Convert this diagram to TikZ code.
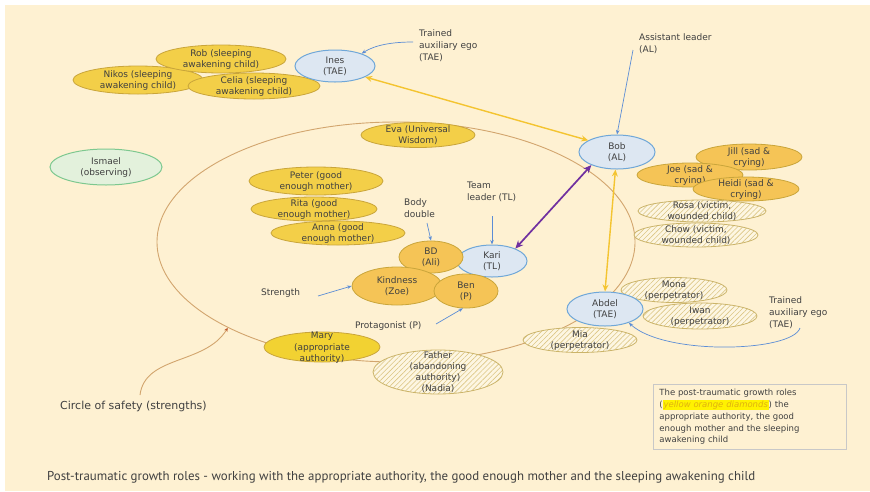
\documentclass[tikz,border=0pt]{standalone}
\usepackage{fontspec}
\setmainfont{DejaVu Sans}
\newfontfamily\capfont{PT Sans}
\usetikzlibrary{shapes.geometric,patterns.meta,arrows.meta}
\definecolor{bg}{HTML}{FEF1D2}
\definecolor{txt}{HTML}{404040}
\definecolor{yelfill}{HTML}{F3CF48}
\definecolor{maryfill}{HTML}{F2D232}
\definecolor{orgfill}{HTML}{F5C456}
\definecolor{yelline}{HTML}{C9A53A}
\definecolor{bluefill}{HTML}{DDE7F2}
\definecolor{blueline}{HTML}{6FA7D8}
\definecolor{greenfill}{HTML}{E3F1DC}
\definecolor{greenline}{HTML}{7DC88F}
\definecolor{hatchc}{HTML}{DCC684}
\definecolor{hatchline}{HTML}{CBB46A}
\definecolor{hatchbg}{HTML}{FDF6E2}
\definecolor{arrblue}{HTML}{5B8DD6}
\definecolor{arryel}{HTML}{F4C430}
\definecolor{arrpur}{HTML}{7030A0}
\definecolor{safecol}{HTML}{D2A56E}
\definecolor{safetip}{HTML}{C0582A}
\definecolor{hly}{HTML}{FFF200}
\definecolor{hltxt}{HTML}{E0B010}
\definecolor{boxline}{HTML}{C8C8C8}
\newcommand\et[1]{\smash{\raisebox{-3pt}{\makebox[0pt]{\begin{tabular}{@{}c@{}}#1\end{tabular}}}}}
\newcommand\tl[1]{\begin{tabular}[t]{@{}l@{}}#1\end{tabular}}
\tikzset{
  ell/.style={ellipse, inner sep=0pt, draw, line width=0.8pt, text=txt, font=\fontsize{9}{11.3}\selectfont},
  sz/.style 2 args={minimum width=#1pt, minimum height=#2pt},
  yel/.style={ell, fill=yelfill, draw=yelline},
  org/.style={ell, fill=orgfill, draw=yelline},
  blu/.style={ell, fill=bluefill, draw=blueline, line width=1pt},
  grn/.style={ell, fill=greenfill, draw=greenline, line width=1pt},
  hat/.style={ell, draw=hatchline, preaction={fill=hatchbg}, pattern={Lines[angle=45,distance=3.6pt,line width=0.6pt]}, pattern color=hatchc},
  lbl/.style={anchor=base west, inner sep=0pt, text=txt, font=\fontsize{9}{12.2}\selectfont},
  blarr/.style={draw=arrblue, line width=0.7pt, -{Stealth[length=4.5pt,width=3.5pt]}},
  yarr/.style={draw=arryel, line width=1.4pt, {Stealth[length=7pt,width=6pt]}-{Stealth[length=7pt,width=6pt]}},
  parr/.style={draw=arrpur, line width=1.7pt, {Stealth[length=8pt,width=7pt]}-{Stealth[length=8pt,width=7pt]}},
}
\begin{document}
\begin{tikzpicture}[x=1pt,y=-1pt]
\useasboundingbox (0,0) rectangle (870,491);
\fill[white] (0,0) rectangle (870,491);
\fill[bg] (5,5) rectangle (870,491);

% circle of safety
\node[ellipse, draw=safecol, line width=0.9pt, minimum width=478pt, minimum height=240pt, inner sep=0pt] (safe) at (396,242) {};

% top-left group
\node[yel,sz={130}{28}] (nikos) at (138,80) {\et{Nikos (sleeping\\awakening child)}};
\node[yel,sz={130}{28}] (rob) at (221,59) {\et{Rob (sleeping\\awakening child)}};
\node[yel,sz={132}{26}] (celia) at (254,86) {\et{Celia (sleeping\\awakening child)}};
\node[blu,sz={80}{32}] (ines) at (335,66) {\et{Ines\\(TAE)}};
\node[grn,sz={112}{36}] (ismael) at (106,167) {\et{Ismael\\(observing)}};
\node[yel,sz={114}{25}] (eva) at (418,135) {\et{Eva (Universal\\Wisdom)}};

% good enough mothers
\node[yel,sz={134}{28}] (peter) at (316,181) {\et{Peter (good\\enough mother)}};
\node[yel,sz={126}{24}] (rita) at (314,209) {\et{Rita (good\\enough mother)}};
\node[yel,sz={134}{24}] (anna) at (338,233) {\et{Anna (good\\enough mother)}};

% centre group
\node[blu,sz={70}{32}] (kari) at (492,261) {\et{Kari\\(TL)}};
\node[org,sz={64}{32}] (bd) at (431,257) {\et{BD\\(Ali)}};
\node[org,sz={90}{38}] (kindness) at (397,286) {\et{Kindness\\(Zoe)}};
\node[org,sz={64}{34}] (ben) at (466,291) {\et{Ben\\(P)}};

% right group
\node[blu,sz={76}{34}] (bob) at (617,152) {\et{Bob\\(AL)}};
\node[org,sz={106}{26}] (jill) at (749,157) {\et{Jill (sad \&\\crying)}};
\node[org,sz={106}{24}] (joe) at (690,175) {\et{Joe (sad \&\\crying)}};
\node[org,sz={106}{24}] (heidi) at (746,189) {\et{Heidi (sad \&\\crying)}};
\node[hat,sz={128}{22}] (rosa) at (702,211) {\et{Rosa (victim,\\wounded child)}};
\node[hat,sz={124}{24}] (chow) at (696,235) {\et{Chow (victim,\\wounded child)}};

% bottom group
\node[yel,fill=maryfill,sz={116}{30}] (mary) at (322,347) {\et{Mary\\(appropriate\\authority)}};
\node[hat,sz={130}{44}] (father) at (438,372) {\et{Father\\(abandoning\\authority)\\(Nadia)}};
\node[hat,sz={114}{25}] (mia) at (580,340) {\et{Mia\\(perpetrator)}};
\node[hat,sz={106}{25}] (mona) at (674,290) {\et{Mona\\(perpetrator)}};
\node[blu,sz={76}{34}] (abdel) at (605,309) {\et{Abdel\\(TAE)}};
\node[hat,sz={114}{26}] (iwan) at (700,316) {\et{Iwan\\(perpetrator)}};

% labels
\node[lbl] (taetop) at (419,36) {\tl{Trained\\auxiliary ego\\(TAE)}};
\node[lbl] (altxt) at (639,40) {\tl{Assistant leader\\(AL)}};
\node[lbl] (tltxt) at (467,188) {\tl{Team\\leader (TL)}};
\node[lbl] (bdtxt) at (404,205) {\tl{Body\\double}};
\node[lbl] (strtxt) at (261,295) {Strength};
\node[lbl] (prtxt) at (355,328) {Protagonist (P)};
\node[lbl] (taebot) at (769,303) {\tl{Trained\\auxiliary ego\\(TAE)}};
\node[lbl, font=\fontsize{11}{13}\selectfont] (safetxt) at (60,409) {Circle of safety (strengths)};

% arrow start points
\coordinate (tae1) at (413,42);
\coordinate (al1) at (633,50);
\coordinate (tl1) at (492,216);
\coordinate (bd1) at (427,223);
\coordinate (st1) at (318,296);
\coordinate (pr1) at (436,324);
\coordinate (tae2) at (800,328);
\coordinate (cs1) at (140,395);

% thin blue arrows
\draw[blarr] (tae1) .. controls (392,42) and (375,45) .. (ines.25);
\draw[blarr] (al1) -- (bob.north);
\draw[blarr] (tl1) -- (kari.north);
\draw[blarr] (bd1) -- (bd.north);
\draw[blarr] (st1) -- (kindness.west);
\draw[blarr] (pr1) -- (ben.-100);
\draw[blarr] (tae2) .. controls (792,352) and (665,356) .. (abdel.-30);

% circle of safety pointer
\draw[draw=safecol, line width=0.9pt, -{Stealth[length=4pt,width=3.5pt,color=safetip]}] (cs1) .. controls (145,355) and (205,365) .. (safe.207);

% thick arrows
\draw[yarr] (ines.-20) -- (bob.158);
\draw[yarr] (bob.-95) -- (abdel.90);
\draw[parr] (kari.28) -- (bob.207);

% legend
\node[draw=boxline, line width=0.9pt, fill=bg, anchor=north west, inner xsep=6pt, inner ysep=5pt, minimum width=193pt, text width=181pt, align=left, text=txt, font=\fontsize{8.5}{11.7}\selectfont] (legend) at (653,384) {The post-traumatic growth roles\\(\setlength{\fboxsep}{0.8pt}\colorbox{hly}{\textcolor{hltxt}{\itshape yellow orange diamonds}}) the\\appropriate authority, the good\\enough mother and the sleeping\\awakening child};

% caption
\node[anchor=base west, inner sep=0pt, text=txt] (caption) at (47,480) {\resizebox{708pt}{!}{\capfont\fontsize{10}{12}\selectfont Post-traumatic growth roles - working with the appropriate authority, the good enough mother and the sleeping awakening child}};
\end{tikzpicture}
\end{document}
